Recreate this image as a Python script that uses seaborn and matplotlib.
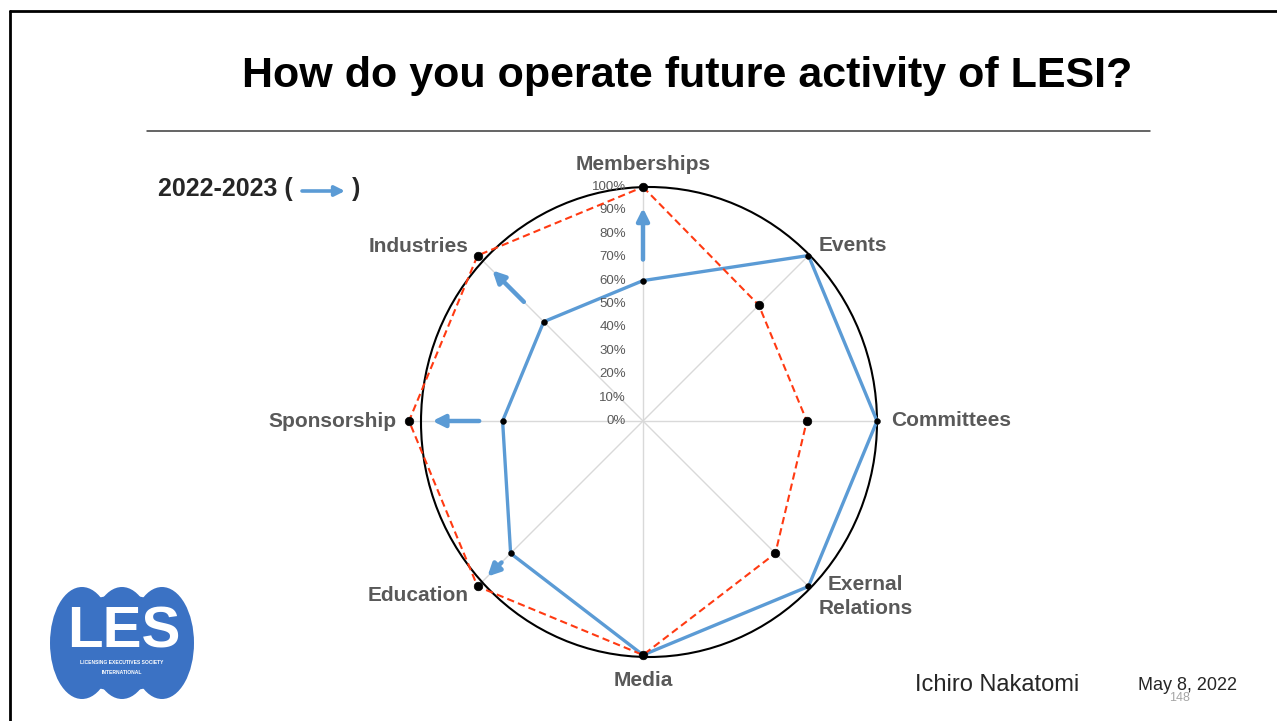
import numpy as np
import matplotlib
matplotlib.use("Agg")
import matplotlib.pyplot as plt
import seaborn as sns
from matplotlib.patches import Ellipse
from matplotlib.lines import Line2D
from matplotlib.transforms import offset_copy

# chart data
categories = ['Memberships', 'Events', 'Committees', 'Exernal\nRelations',
              'Media', 'Education', 'Sponsorship', 'Industries']
current = [0.60, 1.00, 1.00, 1.00, 1.00, 0.80, 0.60, 0.60]   # blue line
future = [1.00, 0.70, 0.70, 0.80, 1.00, 1.00, 1.00, 1.00]    # red dashed line
tick_values = [0.0, 0.1, 0.2, 0.3, 0.4, 0.5, 0.6, 0.7, 0.8, 0.9, 1.0]
tick_labels = ['0%', '10%', '20%', '30%', '40%', '50%', '60%', '70%', '80%', '90%', '100%']
# arrows (category index, from, to)
arrow_idx = [0, 7, 6, 5]
arrow_from = [0.69, 0.72, 0.70, 0.855]
arrow_to = [0.91, 0.91, 0.90, 0.94]

BLUE = '#5b9bd5'
RED = '#ff3a12'
GRAY = '#595959'

sns.set_style('white')
plt.rcParams['font.family'] = ['Liberation Sans', 'DejaVu Sans']

W, H = 1277, 721
fig = plt.figure(figsize=(W / 100, H / 100), dpi=100)


def fx(x):
    return x / W


def fy(y):
    return 1 - y / H


# slide frame + rule under title
fig.add_artist(Line2D([fx(9.5), 1.0], [fy(10.5), fy(10.5)], color='black', lw=2, transform=fig.transFigure))
fig.add_artist(Line2D([fx(9.5), fx(9.5)], [fy(10.5), 0.0], color='black', lw=2, transform=fig.transFigure))
fig.add_artist(Line2D([fx(147), fx(1150)], [fy(131), fy(131)], color='#3a3a3a', lw=1.1, transform=fig.transFigure))

fig.text(fx(687), fy(76), 'How do you operate future activity of LESI?', ha='center', va='center',
         fontsize=31, fontweight='bold', color='black')

# radar
cx, cy, R = 643, 421, 234
ax = fig.add_axes([fx(cx - R), fy(cy + R), 2 * R / W, 2 * R / H], projection='polar')
ax.set_theta_zero_location('N')
ax.set_theta_direction(-1)

angles = np.arange(len(categories)) * 2 * np.pi / len(categories)
theta_closed = np.append(angles, 2 * np.pi)

# black circle (drawn shape, slightly off the chart centre)
ax.add_patch(Ellipse((fx(649), fy(422)), 456 / W, 470 / H, transform=fig.transFigure,
                     fill=False, ec='black', lw=1.5, zorder=1.5, clip_on=False))

sns.lineplot(x=theta_closed, y=np.append(current, current[0]), sort=False, ax=ax,
             color=BLUE, lw=2.4, zorder=3, clip_on=False)
sns.lineplot(x=theta_closed, y=np.append(future, future[0]), sort=False, ax=ax,
             color=RED, lw=1.5, linestyle=(0, (3.5, 2)), zorder=3.2, clip_on=False)
sns.scatterplot(x=angles, y=current, ax=ax, color='black', s=18, edgecolor=None, zorder=4, clip_on=False)
sns.scatterplot(x=angles, y=future, ax=ax, color='black', s=38, edgecolor=None, zorder=4, clip_on=False)

for i, r0, r1 in zip(arrow_idx, arrow_from, arrow_to):
    ax.annotate('', xy=(angles[i], r1), xytext=(angles[i], r0),
                arrowprops=dict(arrowstyle='-|>', color=BLUE, lw=3.2, mutation_scale=18,
                                shrinkA=0, shrinkB=0), zorder=4)

ax.set_ylim(0, 1)
ax.set_xticks(angles)
ax.set_xticklabels([])
ax.set_yticks(tick_values)
ax.set_yticklabels([])
ax.yaxis.grid(False)
ax.xaxis.grid(True, color='#d9d9d9', lw=1)
ax.spines['polar'].set_visible(False)
ax.set_xlabel('')
ax.set_ylabel('')
ax.patch.set_alpha(0)

tick_tr = offset_copy(ax.transData, fig=fig, x=-17, y=0, units='dots')
for v, lab in zip(tick_values, tick_labels):
    ax.text(0, v, lab, transform=tick_tr, ha='right', va='center', fontsize=9.5, color=GRAY)

# category labels
for a, name in zip(angles, categories):
    deg = np.degrees(a)
    if deg == 0:
        ax.text(a, 1.095, name, ha='center', va='center', fontsize=15, fontweight='bold', color=GRAY)
    elif deg == 180:
        ax.text(a, 1.11, name, ha='center', va='center', fontsize=15, fontweight='bold', color=GRAY)
    elif deg < 180:
        ax.text(a, 1.06, name, ha='left', va='center', fontsize=15, fontweight='bold',
                color=GRAY, multialignment='center', linespacing=1.3)
    else:
        ax.text(a, 1.055, name, ha='right', va='center', fontsize=15, fontweight='bold', color=GRAY)

# legend-ish note
fig.text(fx(158), fy(189), '2022-2023 (', ha='left', va='center', fontsize=18, fontweight='bold')
fig.text(fx(352), fy(189), ')', ha='left', va='center', fontsize=18, fontweight='bold')
fig.add_artist(plt.Annotation('', xy=(fx(345), fy(191)), xytext=(fx(302), fy(191)),
                              xycoords='figure fraction', textcoords='figure fraction',
                              arrowprops=dict(arrowstyle='-|>', color=BLUE, lw=2.6, mutation_scale=15,
                                              shrinkA=0, shrinkB=0)))

# LES logo
for x in [82, 122, 162]:
    fig.add_artist(Ellipse((fx(x), fy(643)), 64 / W, 112 / H, transform=fig.transFigure,
                           color='#3b72c4', ec='none'))
fig.add_artist(Ellipse((fx(122), fy(643)), 140 / W, 96 / H, transform=fig.transFigure,
                       color='#3b72c4', ec='none'))
fig.text(fx(124), fy(632), 'LES', ha='center', va='center', fontsize=42, fontweight='bold',
         color='white')
fig.text(fx(122), fy(663), 'LICENSING EXECUTIVES SOCIETY', ha='center', va='center', fontsize=3.6,
         fontweight='bold', color='white')
fig.text(fx(122), fy(672), 'INTERNATIONAL', ha='center', va='center', fontsize=3.6,
         fontweight='bold', color='white')

# footer
fig.text(fx(915), fy(685), 'Ichiro Nakatomi', ha='left', va='center', fontsize=17)
fig.text(fx(1138), fy(686), 'May 8, 2022', ha='left', va='center', fontsize=13)
fig.text(fx(1179), fy(698), '148', ha='center', va='center', fontsize=9, color='#a6a6a6')

fig.savefig('out.png', dpi=100)
